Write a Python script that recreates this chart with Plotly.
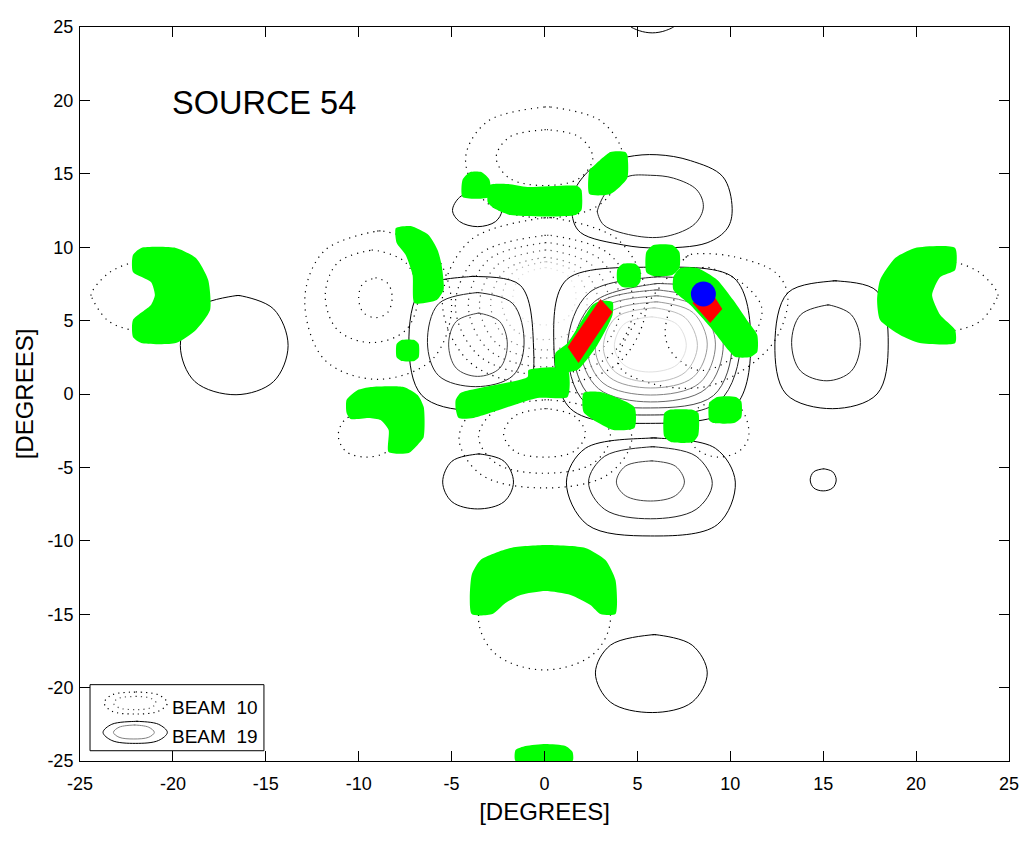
import plotly.graph_objects as go

tick_vals = [-25, -20, -15, -10, -5, 0, 5, 10, 15, 20, 25]
tick_text = ["-25", "-20", "-15", "-10", "-5", "0", "5", "10", "15", "20", "25"]

# ---- BEAM 19 contours (degrees), solid
main1 = [(5.7,8.65),(10.2,7.9),(11.1,3.6),(10.2,-0.9),(5.7,-2.0),(1.4,-1.0),(0.5,3.6),(1.2,7.8)]
main2 = [(5.9,7.97),(9.5,7.2),(10.54,3.5),(9.4,-0.5),(5.7,-1.43),(2.2,-0.6),(1.24,3.3),(2.4,6.9)]
main3 = [(5.9,7.5),(9.2,6.8),(10.1,3.4),(9.1,-0.1),(5.7,-0.95),(2.5,-0.2),(1.56,3.2),(2.7,6.3)]
main4 = [(5.9,7.08),(8.7,6.17),(9.62,3.4),(8.7,0.37),(5.7,-0.54),(2.9,0.37),(1.94,3.1),(2.9,6.17)]
main5 = [(5.9,6.68),(8.35,5.85),(9.2,3.4),(8.35,0.75),(5.7,-0.07),(3.15,0.75),(2.31,3.0),(3.15,5.85)]
main6 = [(5.9,6.27),(8.0,5.54),(8.76,3.4),(8.0,1.14),(5.7,0.41),(3.5,1.14),(2.74,3.0),(3.5,5.54)]
main7 = [(5.8,5.86),(7.57,5.2),(8.23,3.3),(7.57,1.48),(5.7,0.82),(3.83,1.48),(3.17,3.1),(3.83,5.2)]
main8 = [(5.7,5.25),(7.13,4.75),(7.63,3.3),(7.13,1.99),(5.6,1.5),(4.27,1.99),(3.76,3.2),(4.27,4.75)]

low1 = [(5.7,-3.0),(9.2,-3.7),(10.27,-6.0),(9.3,-8.9),(5.7,-9.67),(2.3,-8.9),(1.18,-6.0),(2.2,-3.7)]
low2 = [(5.7,-3.6),(8.16,-4.24),(9.03,-6.1),(8.16,-7.86),(5.7,-8.5),(3.24,-7.86),(2.37,-6.0),(3.24,-4.24)]
low3 = [(5.7,-4.56),(7.05,-4.92),(7.53,-6.0),(7.05,-6.92),(5.7,-7.29),(4.35,-6.92),(3.87,-6.0),(4.35,-4.92)]
low_left = [(-3.6,-4.09),(-2.18,-4.58),(-1.67,-6.0),(-2.18,-7.34),(-3.6,-7.83),(-4.98,-7.34),(-5.48,-6.0),(-4.98,-4.58)]

left1 = [(-4.0,8.0),(-1.3,7.4),(-0.6,3.5),(-1.0,0.0),(-4.0,-1.1),(-6.6,-0.1),(-7.3,3.4),(-6.6,7.2)]
left2 = [(-3.7,6.9),(-1.7,6.15),(-1.1,3.4),(-1.7,1.25),(-3.7,0.5),(-5.7,1.25),(-6.3,3.5),(-5.7,6.15)]
left3 = [(-3.6,5.5),(-2.41,4.94),(-2.0,3.4),(-2.41,1.76),(-3.6,1.2),(-4.75,1.76),(-5.16,3.4),(-4.75,4.94)]

right1 = [(15.5,7.7),(17.9,7.0),(18.5,3.4),(17.9,0.0),(15.5,-1.0),(13.0,0.0),(12.4,3.4),(13.1,6.9)]
right2 = [(15.2,6.06),(16.52,5.39),(17.0,3.5),(16.52,1.57),(15.2,0.9),(13.78,1.57),(13.3,3.5),(13.78,5.39)]

far_left = [(-16.6,6.7),(-14.58,5.79),(-13.8,3.3),(-14.58,0.85),(-16.6,-0.05),(-18.82,0.85),(-19.6,3.3),(-18.82,5.79)]
far_low = [(5.8,-16.4),(7.95,-17.11),(8.76,-19.0),(7.95,-20.99),(5.8,-21.7),(3.55,-20.99),(2.74,-19.0),(3.55,-17.11)]
tiny = [(15.0,-5.1),(15.51,-5.3),(15.7,-5.85),(15.51,-6.4),(15.0,-6.6),(14.49,-6.4),(14.3,-5.85),(14.49,-5.3)]
top_cut = [(5.8,25.6),(6.6,25.4),(7.0,25.1),(6.5,24.75),(5.8,24.6),(5.1,24.75),(4.6,25.1),(5.0,25.4)]

top1 = [(2.6,15.4),(1.67,14.0),(1.5,12.1),(1.94,11.0),(4.25,10.15),(6.05,9.95),(8.75,10.3),(9.85,11.3),
        (10.1,12.65),(9.6,14.8),(7.85,15.9),(6.05,16.3),(4.45,16.15)]
top2 = [(2.85,12.5),(3.2,11.5),(5.0,10.75),(6.6,10.75),(8.1,11.6),(8.55,12.75),(8.2,13.9),(6.95,14.7),
        (5.7,14.9),(4.45,14.8),(3.3,13.7)]
top_left = [(-3.6,13.9),(-2.63,13.4),(-2.3,12.5),(-2.63,11.75),(-3.6,11.4),(-4.57,11.75),(-4.95,12.5),(-4.57,13.4)]

# ---- BEAM 10 contours (degrees), dotted
ring1 = [(0,12.0),(4.0,10.46),(5.5,6.3),(4.0,2.14),(0,0.6),(-4.0,2.14),(-5.5,6.3),(-4.0,10.46)]
ring2 = [(0,10.8),(3.5,9.52),(4.8,6.05),(3.5,2.58),(0,1.3),(-3.5,2.58),(-4.8,6.05),(-3.5,9.52)]
ring3 = [(0,10.3),(3.0,9.16),(4.1,6.08),(3.0,3.0),(0,1.85),(-3.0,3.0),(-4.1,6.08),(-3.0,9.16)]
ring4 = [(0,9.8),(2.55,8.78),(3.5,6.1),(2.55,3.42),(0,2.45),(-2.55,3.42),(-3.5,6.1),(-2.55,8.78)]
ring5 = [(0,9.3),(2.1,8.45),(2.9,6.15),(2.1,3.85),(0,3.0),(-2.1,3.85),(-2.9,6.15),(-2.1,8.45)]
ring6 = [(0,9.0),(1.68,8.28),(2.3,6.35),(1.68,4.42),(0,3.7),(-1.68,4.42),(-2.3,6.35),(-1.68,8.28)]
ring7 = [(0,8.6),(1.24,8.07),(1.7,6.65),(1.24,5.23),(0,4.7),(-1.24,5.23),(-1.7,6.65),(-1.24,8.07)]

up1 = [(0,19.55),(3.1,18.54),(4.25,16.0),(3.1,13.02),(0,12.0),(-3.1,13.02),(-4.25,16.0),(-3.1,18.54)]
up2 = [(0,18.0),(1.9,17.49),(2.6,16.1),(1.9,14.71),(0,14.2),(-1.9,14.71),(-2.6,16.1),(-1.9,17.49)]

lobeL1 = [(-9.0,11.1),(-6.05,9.75),(-5.0,6.0),(-6.05,2.35),(-9.0,1.0),(-11.85,2.35),(-12.9,6.5),(-11.85,9.75)]
lobeL2 = [(-9.3,9.8),(-7.47,8.95),(-6.8,6.7),(-7.47,4.35),(-9.3,3.5),(-11.13,4.35),(-11.8,6.7),(-11.13,8.95)]
lobeL3 = [(-9.1,7.9),(-8.44,7.54),(-8.2,6.6),(-8.44,5.56),(-9.1,5.2),(-9.76,5.56),(-10.0,6.6),(-9.76,7.54)]

lobeR1 = [(7.6,9.3),(10.0,9.4),(12.5,8.2),(13.1,6.5),(12.2,3.3),(9.0,0.6),(5.8,0.7),(4.0,2.0),(5.2,5.5)]
lobeR2 = [(8.5,8.6),(10.6,7.6),(11.7,5.8),(10.8,3.2),(8.5,1.6),(7.0,2.6),(6.5,4.0),(7.0,6.5)]

far_l = [(-24.4,6.7),(-23.5,8.2),(-22.0,9.0),(-20.0,9.0),(-18.5,7.5),(-18.5,5.5),(-20.0,4.2),(-22.0,4.3),(-23.5,5.0)]
far_r = [(24.4,6.7),(23.5,8.2),(22.0,9.0),(20.0,9.0),(18.5,7.5),(18.5,5.5),(20.0,4.2),(22.0,4.3),(23.5,5.0)]
down = [(0,-11.0),(2.6,-12.05),(3.55,-15.4),(2.6,-17.75),(0,-18.8),(-2.6,-17.75),(-3.55,-15.4),(-2.6,-12.05)]

mid1 = [(0,-1.0),(1.6,-1.5),(2.2,-2.7),(1.6,-3.9),(0,-4.3),(-1.6,-3.9),(-2.2,-2.7),(-1.6,-1.5)]
mid2 = [(0,-0.4),(2.6,-1.07),(3.55,-2.9),(2.6,-4.73),(0,-5.4),(-2.6,-4.73),(-3.55,-2.9),(-2.6,-1.07)]
mid3 = [(0,0.3),(3.4,-0.6),(4.7,-3.0),(3.4,-5.5),(0,-6.4),(-3.4,-5.5),(-4.6,-3.0),(-3.4,-0.6)]
low_l = [(-9.6,-1.3),(-8.45,-1.7),(-8.0,-2.8),(-8.45,-3.9),(-9.6,-4.3),(-10.7,-3.9),(-11.1,-2.8),(-10.7,-1.7)]
low_r = [(9.4,-0.5),(10.57,-1.0),(11.0,-2.8),(10.57,-3.8),(9.4,-4.3),(8.23,-3.8),(7.8,-2.8),(8.23,-1.0)]

# ---- sidelobe regions (degrees), green
g_far_left = [(-22.15,9.47),(-21.7,9.95),(-19.84,9.95),(-18.76,9.26),(-18.1,7.77),(-18.0,5.72),(-18.76,4.36),
              (-19.84,3.47),(-21.7,3.47),(-22.15,3.88),(-22.15,5.04),(-21.18,6.06),(-20.97,6.74),(-21.18,7.63),(-22.15,8.31)]
g_far_right = [(22.1,9.95),(19.95,9.95),(18.87,9.26),(18.06,7.77),(17.9,6.4),(18.06,5.04),(19.14,4.02),(20.2,3.47),
               (22.1,3.47),(22.1,4.36),(21.3,5.38),(20.86,6.74),(21.3,7.97),(22.1,8.45)]
g_left_arc = [(-8.0,11.3),(-7.2,11.44),(-6.24,10.83),(-5.75,9.8),(-5.54,8.8),(-5.43,7.1),(-5.8,6.4),(-7.0,6.2),
              (-7.1,8.1),(-7.47,9.47),(-7.96,10.3)]
g_left_sq = [(-7.96,3.4),(-7.7,3.68),(-7.0,3.68),(-6.77,3.4),(-6.77,2.5),(-7.0,2.25),(-7.7,2.25),(-7.96,2.5)]
g_hook = [(-10.65,-0.4),(-10.05,0.27),(-9.35,0.48),(-7.58,0.48),(-6.83,-0.07),(-6.5,-0.89),(-6.5,-2.93),(-6.83,-3.47),
          (-7.31,-4.02),(-8.39,-3.95),(-8.39,-2.45),(-8.82,-1.77),(-9.46,-1.63),(-10.43,-1.7),(-10.65,-1.29)]
g_diag = [(-4.78,-0.41),(-4.52,0.07),(-0.91,1.16),(-0.86,1.63),(1.24,1.7),(1.24,-0.2),(-0.38,-0.27),(-3.82,-1.63),
          (-4.62,-1.63),(-4.78,-1.02)]
g_band = [(0.59,2.79),(1.24,3.47),(2.58,6.06),(3.01,6.34),(3.66,6.27),(3.66,5.38),(2.85,3.34),(1.77,1.63),(1.02,1.5),(0.59,1.84)]
g_right_band = [(6.94,7.97),(7.31,8.58),(8.23,8.58),(9.3,7.77),(10.16,6.4),(10.97,4.9),(11.45,4.02),(11.45,2.86),
                (11.08,2.52),(10.27,2.52),(9.89,3.0),(8.92,4.56),(7.85,6.06),(6.94,7.08)]
g_sq_a = [(5.48,9.67),(5.86,10.15),(6.88,10.15),(7.26,9.67),(7.26,8.58),(6.88,8.1),(5.86,8.04),(5.48,8.3)]
g_sq_b = [(3.92,8.5),(4.2,8.86),(4.9,8.86),(5.16,8.5),(5.16,7.65),(4.9,7.29),(4.2,7.29),(3.92,7.65)]
g_low_a = [(2.1,0.07),(3.01,0.14),(4.84,-0.89),(4.84,-2.32),(3.71,-2.45),(2.63,-1.77),(2.1,-1.23)]
g_low_b = [(6.45,-1.3),(6.7,-1.09),(8.0,-1.09),(8.28,-1.3),(8.28,-2.8),(8.0,-3.27),(6.8,-3.27),(6.45,-2.9)]
g_low_c = [(8.87,-0.6),(9.3,-0.2),(10.3,-0.2),(10.59,-0.5),(10.59,-1.6),(10.2,-1.98),(9.1,-1.98),(8.87,-1.8)]
g_top_a = [(-4.41,14.6),(-4.0,15.12),(-3.4,15.12),(-2.96,14.6),(-2.96,13.42),(-4.41,13.42)]
g_top_b = [(-2.96,14.24),(-1.99,14.31),(-0.91,14.1),(1.77,14.17),(1.99,13.9),(1.99,12.53),(1.67,12.19),(-1.83,12.19),
           (-2.74,12.67),(-3.06,13.08)]
g_top_c = [(3.55,16.49),(4.35,16.49),(4.46,16.28),(4.46,14.71),(3.55,13.62),(2.42,13.62),(2.42,15.26),(2.58,15.46)]
g_arch = [(-3.92,-12.33),(-3.44,-11.31),(-1.83,-10.49),(0.05,-10.29),(2.2,-10.49),(3.28,-11.31),(3.82,-12.67),(3.82,-14.99),
          (3.01,-14.99),(2.47,-14.37),(1.4,-13.69),(0.05,-13.42),(-1.29,-13.69),(-2.1,-14.24),(-2.8,-14.99),(-3.92,-14.99)]
g_strip = [(-1.56,-25),(-1.56,-24.25),(-1.02,-23.98),(0.05,-23.84),(1.13,-23.98),(1.51,-24.39),(1.51,-25)]

# ---- source regions (degrees), red, and the position, blue
r_band = [(3.01,6.47),(3.66,5.59),(1.83,2.11),(1.24,3.2)]
r_diamond = [(7.96,6.2),(8.92,7.08),(9.57,5.79),(8.92,4.84)]
source_x = [8.55]
source_y = [6.81]

# ---- legend box and samples (degrees)
legend_box = [(-24.46,-19.8),(-15.1,-19.8),(-15.1,-24.3),(-24.46,-24.3)]
key_dot1 = [(-22.0,-20.3),(-20.77,-20.5),(-20.3,-21.05),(-20.77,-21.6),(-22.0,-21.8),(-23.29,-21.6),(-23.7,-21.05),(-23.29,-20.5)]
key_dot2 = [(-22.0,-20.6),(-21.21,-20.72),(-20.9,-21.05),(-21.21,-21.38),(-22.0,-21.5),(-22.89,-21.38),(-23.2,-21.05),(-22.89,-20.72)]
key_sol1 = [(-22.0,-22.3),(-20.77,-22.5),(-20.3,-23.05),(-20.77,-23.6),(-22.0,-23.8),(-23.29,-23.6),(-23.76,-23.05),(-23.29,-22.5)]
key_sol2 = [(-22.1,-22.55),(-21.3,-22.7),(-21.0,-23.05),(-21.3,-23.38),(-22.1,-23.5),(-22.9,-23.38),(-23.2,-23.05),(-22.9,-22.7)]

fig = go.Figure()


def contour(points, color="#000000", dash="solid", width=1.0):
    # short lead-in along the tangent at the first node, so the spline closes without a kink
    p0, p1, pz = points[0], points[1], points[-1]
    lead = (p0[0] + 0.05 * (p1[0] - pz[0]), p0[1] + 0.05 * (p1[1] - pz[1]))
    pts = [p0, lead] + points[1:] + [p0, lead]
    fig.add_trace(go.Scatter(x=[p[0] for p in pts], y=[p[1] for p in pts], mode="lines",
                             line=dict(color=color, width=width, dash=dash, shape="spline", smoothing=1.0),
                             hoverinfo="skip", showlegend=False))


def region(points, color, shape="spline"):
    pts = points + points[:1]
    fig.add_trace(go.Scatter(x=[p[0] for p in pts], y=[p[1] for p in pts], mode="lines", fill="toself",
                             fillcolor=color, line=dict(color=color, width=0, shape=shape, smoothing=0.6),
                             hoverinfo="skip", showlegend=False))


DOT = "1.2px,5px"
for pts, col in zip([ring1, ring2, ring3, ring4, ring5, ring6, ring7],
                    ["#000000", "#111111", "#333333", "#555555", "#777777", "#aaaaaa", "#dddddd"]):
    contour(pts, col, DOT, 1.2)
for pts in [up1, up2, lobeL1, lobeL2, lobeL3, lobeR1, lobeR2, far_l, far_r, down, mid1, mid2, mid3, low_l, low_r]:
    contour(pts, "#000000", DOT, 1.2)

for pts, col in zip([main1, main2, main3, main4, main5, main6, main7, main8],
                    ["#000000", "#222222", "#444444", "#666666", "#808080", "#999999", "#bbbbbb", "#e0e0e0"]):
    contour(pts, col)
for pts, col in zip([low1, low2, low3], ["#000000", "#222222", "#444444"]):
    contour(pts, col)
for pts, col in zip([left1, left2, left3], ["#000000", "#222222", "#444444"]):
    contour(pts, col)
for pts, col in zip([right1, right2, top1, top2], ["#000000", "#222222", "#000000", "#222222"]):
    contour(pts, col)
for pts in [low_left, far_left, far_low, tiny, top_cut, top_left]:
    contour(pts)

for pts in [g_far_left, g_far_right, g_left_arc, g_left_sq, g_hook, g_diag, g_band, g_right_band, g_sq_a, g_sq_b,
            g_low_a, g_low_b, g_low_c, g_top_a, g_top_b, g_top_c, g_arch, g_strip]:
    region(pts, "#00ff00")
for pts in [r_band, r_diamond]:
    region(pts, "#ff0000", "linear")

fig.add_trace(go.Scatter(x=source_x, y=source_y, mode="markers",
                         marker=dict(color="#0000ff", size=25, line=dict(width=0)),
                         hoverinfo="skip", showlegend=False))

box = legend_box + legend_box[:1]
fig.add_trace(go.Scatter(x=[p[0] for p in box], y=[p[1] for p in box], mode="lines", fill="toself",
                         fillcolor="#ffffff", line=dict(color="#000000", width=1),
                         hoverinfo="skip", showlegend=False))
contour(key_dot1, "#000000", "1.2px,4px", 1.2)
contour(key_dot2, "#555555", "1.2px,4px", 1.2)
contour(key_sol1)
contour(key_sol2, "#808080")

FONT = "Liberation Sans"
axis = dict(range=[-25, 25], tickmode="array", tickvals=tick_vals, ticktext=tick_text, ticks="inside", ticklen=10,
            tickwidth=1, tickcolor="#000000", showline=True, linecolor="#000000", linewidth=1, mirror="ticks",
            showgrid=False, zeroline=False, tickfont=dict(family=FONT, size=18, color="#000000"))

fig.update_layout(
    width=1036, height=842, autosize=False, paper_bgcolor="#ffffff", plot_bgcolor="#ffffff",
    margin=dict(l=80, r=27, t=27, b=81), showlegend=False,
    xaxis=dict(axis, ticklabelstandoff=6, title=dict(text="[DEGREES]", standoff=10,
               font=dict(family=FONT, size=24, color="#000000"))),
    yaxis=dict(axis, ticklabelstandoff=2, title=dict(text="[DEGREES]", standoff=6,
               font=dict(family=FONT, size=24, color="#000000"))),
    annotations=[
        dict(text="SOURCE 54", x=-20.16, y=19.85, xref="x", yref="y", xanchor="left", yanchor="middle", showarrow=False,
             font=dict(family=FONT, size=32.5, color="#000000")),
        dict(text="BEAM  10", x=-20.16, y=-21.37, xref="x", yref="y", xanchor="left", yanchor="middle", showarrow=False,
             font=dict(family=FONT, size=19, color="#000000")),
        dict(text="BEAM  19", x=-20.16, y=-23.32, xref="x", yref="y", xanchor="left", yanchor="middle", showarrow=False,
             font=dict(family=FONT, size=19, color="#000000")),
    ],
)

fig.write_html("out.html", config={"displayModeBar": False},
               post_script="document.body.style.margin='0';document.body.style.overflow='hidden';")
